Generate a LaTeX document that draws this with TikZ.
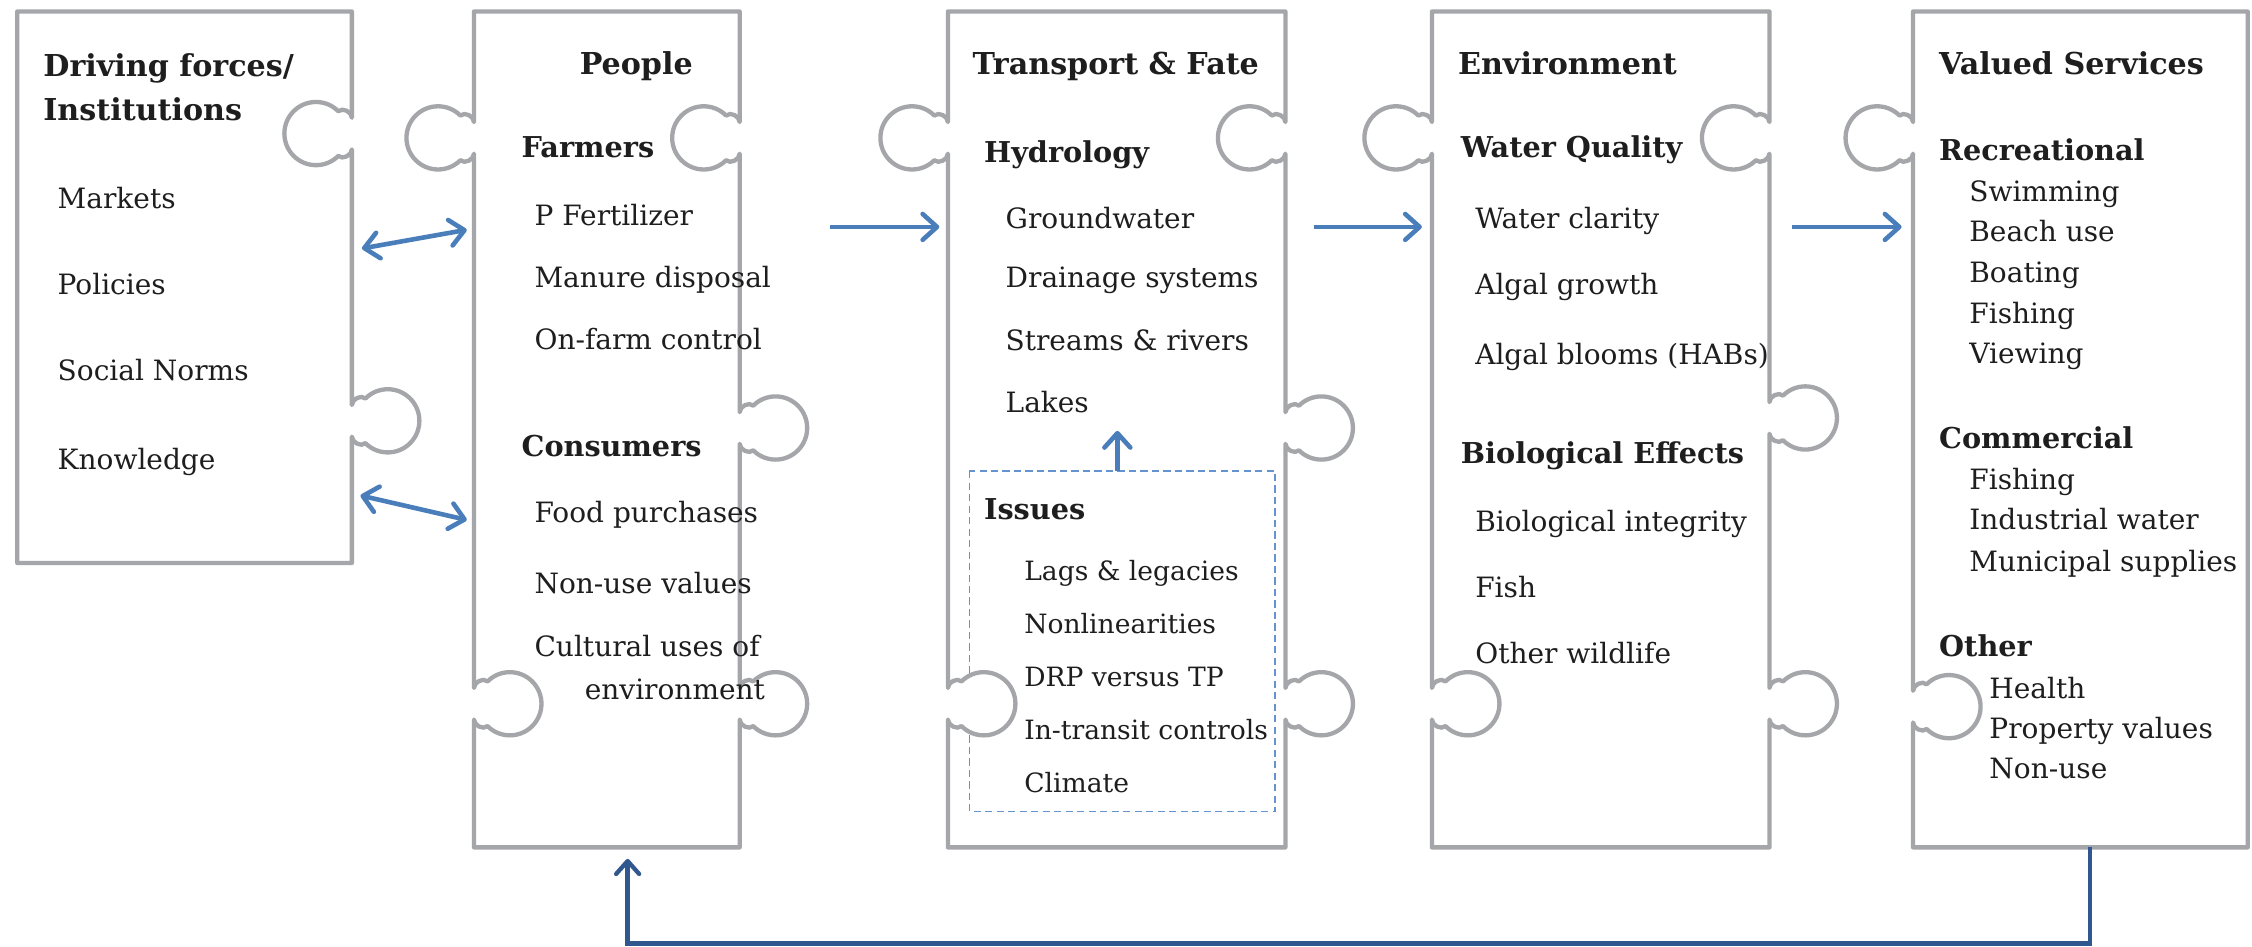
\documentclass[tikz,border=0pt]{standalone}
\usepackage{fontspec}
\setmainfont{DejaVu Serif}
\usetikzlibrary{arrows.meta,calc}

\definecolor{piecegray}{HTML}{A5A6A9}
\definecolor{flowblue}{HTML}{4A7EBB}
\definecolor{loopblue}{HTML}{30588F}
\definecolor{dashblue}{HTML}{6494CF}
\definecolor{ink}{HTML}{1E1E1E}

% puzzle knob geometry: radius, centre offset from the edge, half neck width
\def\kr{22}\def\ka{25}\def\kn{11}
% right edge (walked downwards): outward knob / inward socket
\newcommand\rout[2]{-- (#1,#2-\kn) to[out=90,in=135] ($(#1+\ka,#2)+(225:\kr)$) arc[start angle=225,end angle=495,radius=\kr] to[out=225,in=270] (#1,#2+\kn)}
\newcommand\rin[2]{-- (#1,#2-\kn) to[out=90,in=45] ($(#1-\ka,#2)+(315:\kr)$) arc[start angle=315,end angle=45,radius=\kr] to[out=315,in=270] (#1,#2+\kn)}
% left edge (walked upwards): outward knob / inward socket
\newcommand\lout[2]{-- (#1,#2+\kn) to[out=270,in=315] ($(#1-\ka,#2)+(45:\kr)$) arc[start angle=45,end angle=315,radius=\kr] to[out=45,in=90] (#1,#2-\kn)}
\newcommand\lin[2]{-- (#1,#2+\kn) to[out=270,in=225] ($(#1+\ka,#2)+(135:\kr)$) arc[start angle=135,end angle=-135,radius=\kr] to[out=135,in=90] (#1,#2-\kn)}

\tikzset{
  piece/.style={draw=piecegray, line width=3pt, line join=round},
  hd/.style={font=\fontsize{21}{25}\selectfont\bfseries, text=ink, inner sep=0pt, anchor=base west},
  sub/.style={font=\fontsize{20}{24}\selectfont\bfseries, text=ink, inner sep=0pt, anchor=base west},
  item/.style={font=\fontsize{19.5}{23}\selectfont, text=ink, inner sep=0pt, anchor=base west},
  iss/.style={font=\fontsize{18.5}{22}\selectfont, text=ink, inner sep=0pt, anchor=base west},
  barb/.tip={Straight Barb[length=10pt,width=18pt,line cap=round,line join=round]},
  flow/.style={draw=flowblue, line width=3.2pt, -barb},
  twoway/.style={draw=flowblue, line width=3.2pt, barb-barb},
  loop/.style={draw=loopblue, line width=3pt, -{Straight Barb[length=9pt,width=16pt,line cap=round,line join=round]}},
  issuebox/.style={draw=dashblue, line width=1.3pt, dash pattern=on 5pt off 3pt}
}

\begin{document}
\begin{tikzpicture}[x=1pt,y=-1pt]
\useasboundingbox (0,0) rectangle (1568,659);
\fill[white] (0,0) rectangle (1568,659);

% Issues box inside Transport & Fate, with the socket cut out of its left side
\draw[issuebox] (675,328) rectangle (888,565);
\fill[white] (685,490) circle[radius=22];

% the five puzzle pieces
\draw[piece] (12,8) -- (245,8) \rin{245}{93} \rout{245}{293} -- (245,392) -- (12,392) -- cycle;
\draw[piece] (330,8) -- (515,8) \rin{515}{96} \rout{515}{298} \rout{515}{490} -- (515,590) -- (330,590) \lin{330}{490} \lout{330}{96} -- cycle;
\draw[piece] (660,8) -- (895,8) \rin{895}{96} \rout{895}{298} \rout{895}{490} -- (895,590) -- (660,590) \lin{660}{490} \lout{660}{96} -- cycle;
\draw[piece] (997,8) -- (1232,8) \rin{1232}{96} \rout{1232}{291} \rout{1232}{490} -- (1232,590) -- (997,590) \lin{997}{490} \lout{997}{96} -- cycle;
\draw[piece] (1332,8) -- (1565,8) -- (1565,590) -- (1332,590) \lin{1332}{492} \lout{1332}{96} -- cycle;

% Driving forces / Institutions
\node[hd] (df1) at (30,53) {Driving forces/};
\node[hd] (df2) at (30,84) {Institutions};
\node[item] (df3) at (40,145) {Markets};
\node[item] (df4) at (40,205) {Policies};
\node[item] (df5) at (40,265) {Social Norms};
\node[item] (df6) at (40,327) {Knowledge};

% People
\node[hd, anchor=base] (pe0) at (443,52) {People};
\node[sub] (pe1) at (363,110) {Farmers};
\node[item] (pe2) at (372,157) {P Fertilizer};
\node[item] (pe3) at (372,200) {Manure disposal};
\node[item] (pe4) at (372,243) {On-farm control};
\node[sub] (pe5) at (363,318) {Consumers};
\node[item] (pe6) at (372,364) {Food purchases};
\node[item] (pe7) at (372,413) {Non-use values};
\node[item] (pe8) at (372,457) {Cultural uses of};
\node[item] (pe9) at (407,487) {environment};

% Transport & Fate
\node[hd] (tf0) at (677,52) {Transport \& Fate};
\node[sub] (tf1) at (685,113) {Hydrology};
\node[item] (tf2) at (700,159) {Groundwater};
\node[item] (tf3) at (700,200) {Drainage systems};
\node[item] (tf4) at (700,244) {Streams \& rivers};
\node[item] (tf5) at (700,287) {Lakes};
\node[sub] (is0) at (685,362) {Issues};
\node[iss] (is1) at (713,404) {Lags \& legacies};
\node[iss] (is2) at (713,441) {Nonlinearities};
\node[iss] (is3) at (713,478) {DRP versus TP};
\node[iss] (is4) at (713,515) {In-transit controls};
\node[iss] (is5) at (713,552) {Climate};

% Environment
\node[hd] (en0) at (1015,52) {Environment};
\node[sub] (en1) at (1017,110) {Water Quality};
\node[item] (en2) at (1027,159) {Water clarity};
\node[item] (en3) at (1027,205) {Algal growth};
\node[item] (en4) at (1027,254) {Algal blooms (HABs)};
\node[sub] (en5) at (1017,323) {Biological Effects};
\node[item] (en6) at (1027,370) {Biological integrity};
\node[item] (en7) at (1027,416) {Fish};
\node[item] (en8) at (1027,462) {Other wildlife};

% Valued Services
\node[hd] (vs0) at (1350,52) {Valued Services};
\node[sub] (vs1) at (1350,112) {Recreational};
\node[item] (vs2) at (1371,140) {Swimming};
\node[item] (vs3) at (1371,168) {Beach use};
\node[item] (vs4) at (1371,197) {Boating};
\node[item] (vs5) at (1371,225) {Fishing};
\node[item] (vs6) at (1371,253) {Viewing};
\node[sub] (vs7) at (1350,312) {Commercial};
\node[item] (vs8) at (1371,341) {Fishing};
\node[item] (vs9) at (1371,369) {Industrial water};
\node[item] (vs10) at (1371,398) {Municipal supplies};
\node[sub] (vs11) at (1350,457) {Other};
\node[item] (vs12) at (1385,486) {Health};
\node[item] (vs13) at (1385,514) {Property values};
\node[item] (vs14) at (1385,542) {Non-use};

% connector end points on the piece outlines
\coordinate (dfA) at (252,173);  \coordinate (peA) at (325,160);
\coordinate (dfB) at (251,345);  \coordinate (peB) at (325,362);
\coordinate (peR) at (578,158);  \coordinate (tfL) at (654,158);
\coordinate (tfR) at (915,158);  \coordinate (enL) at (990,158);
\coordinate (enR) at (1248,158); \coordinate (vsL) at (1324,158);
\coordinate (isT) at (778,328);  \coordinate (lkB) at (778,300);
\coordinate (vsB) at (1455,590); \coordinate (peBot) at (437,598);

\draw[twoway] (dfA) -- (peA);
\draw[twoway] (dfB) -- (peB);
\draw[flow] (peR) -- (tfL);
\draw[flow] (tfR) -- (enL);
\draw[flow] (enR) -- (vsL);
\draw[flow] (isT) -- (lkB);
\draw[loop] (vsB) -- ++(0,67) -| (peBot);
\end{tikzpicture}
\end{document}
